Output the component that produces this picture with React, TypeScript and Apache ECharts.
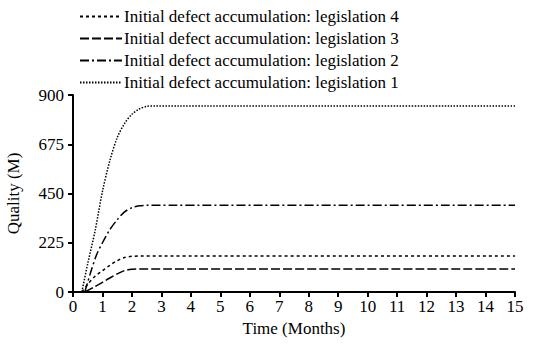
import React, { useEffect, useRef } from "react";
import * as echarts from "echarts";

const legendNames = [
  "Initial defect accumulation: legislation 4",
  "Initial defect accumulation: legislation 3",
  "Initial defect accumulation: legislation 2",
  "Initial defect accumulation: legislation 1",
];

const leg1X = [0.3, 0.5, 0.75, 1, 1.25, 1.5, 1.75, 2, 2.25, 2.5, 2.75, 15];
const leg1Y = [0, 130, 280, 460, 600, 705, 770, 812, 836, 848, 850, 850];

const leg2X = [0.4, 0.6, 0.8, 1, 1.25, 1.5, 1.75, 2, 2.25, 2.5, 15];
const leg2Y = [0, 90, 170, 225, 285, 330, 366, 385, 394, 396, 396];

const leg3X = [0.4, 0.75, 1, 1.25, 1.5, 1.75, 2, 2.25, 15];
const leg3Y = [0, 25, 44, 64, 83, 98, 104, 105, 105];

const leg4X = [0.3, 0.5, 0.75, 1, 1.25, 1.5, 1.75, 2, 2.25, 15];
const leg4Y = [0, 35, 72, 97, 122, 143, 158, 163, 164, 164];

const xTicks = { min: 0, max: 15, interval: 1 };
const yTicks = { min: 0, max: 900, interval: 225 };

const zip = (xs: number[], ys: number[]) => xs.map((x, i) => [x, ys[i]]);

const FONT = "Liberation Serif, Times New Roman, serif";

export default function App() {
  const ref = useRef<HTMLDivElement>(null);
  useEffect(() => {
    document.body.style.margin = "0";
    if (!ref.current) return;
    const chart = echarts.init(ref.current, undefined, { renderer: "svg" });
    const mk = (name: string, data: number[][], dash: number[]) => ({
      name,
      type: "line",
      data,
      smooth: 0.3,
      symbol: "none",
      lineStyle: { color: "#000", width: 1.5, type: dash },
      itemStyle: { color: "#000" },
    });
    const txt = { fontFamily: FONT, fontSize: 17, color: "#000" };
    chart.setOption({
      animation: false,
      backgroundColor: "#fff",
      textStyle: { fontFamily: FONT, color: "#000" },
      legend: {
        data: legendNames,
        orient: "vertical",
        left: 74,
        top: 3,
        itemWidth: 42,
        itemHeight: 10,
        itemGap: 5,
        itemStyle: { opacity: 0 },
        textStyle: { ...txt, padding: [0, 0, 0, -3] },
      },
      grid: { left: 73, right: 44, top: 95, bottom: 55, containLabel: false, outerBoundsMode: "none" },
      xAxis: {
        type: "value",
        ...xTicks,
        name: "Time (Months)",
        nameLocation: "middle",
        nameGap: 28,
        nameTextStyle: txt,
        axisLine: { show: true, lineStyle: { color: "#000", width: 2 } },
        axisTick: { show: true, length: 5, lineStyle: { color: "#000", width: 2 } },
        axisLabel: { ...txt, margin: 6 },
        splitLine: { show: false },
      },
      yAxis: {
        type: "value",
        ...yTicks,
        name: "Quality (M)",
        nameLocation: "middle",
        nameGap: 51,
        nameRotate: 90,
        nameTextStyle: txt,
        axisLine: { show: true, lineStyle: { color: "#000", width: 2 } },
        axisTick: { show: true, length: 5, lineStyle: { color: "#000", width: 2 } },
        axisLabel: { ...txt, margin: 9 },
        splitLine: { show: false },
      },
      series: [
        mk(legendNames[0], zip(leg4X, leg4Y), [3, 3]),
        mk(legendNames[1], zip(leg3X, leg3Y), [9, 3]),
        mk(legendNames[2], zip(leg2X, leg2Y), [9, 3, 2, 3]),
        mk(legendNames[3], zip(leg1X, leg1Y), [1.5, 1.5]),
      ],
    });
    return () => chart.dispose();
  }, []);
  return <div ref={ref} style={{ width: 559, height: 347 }} />;
}
